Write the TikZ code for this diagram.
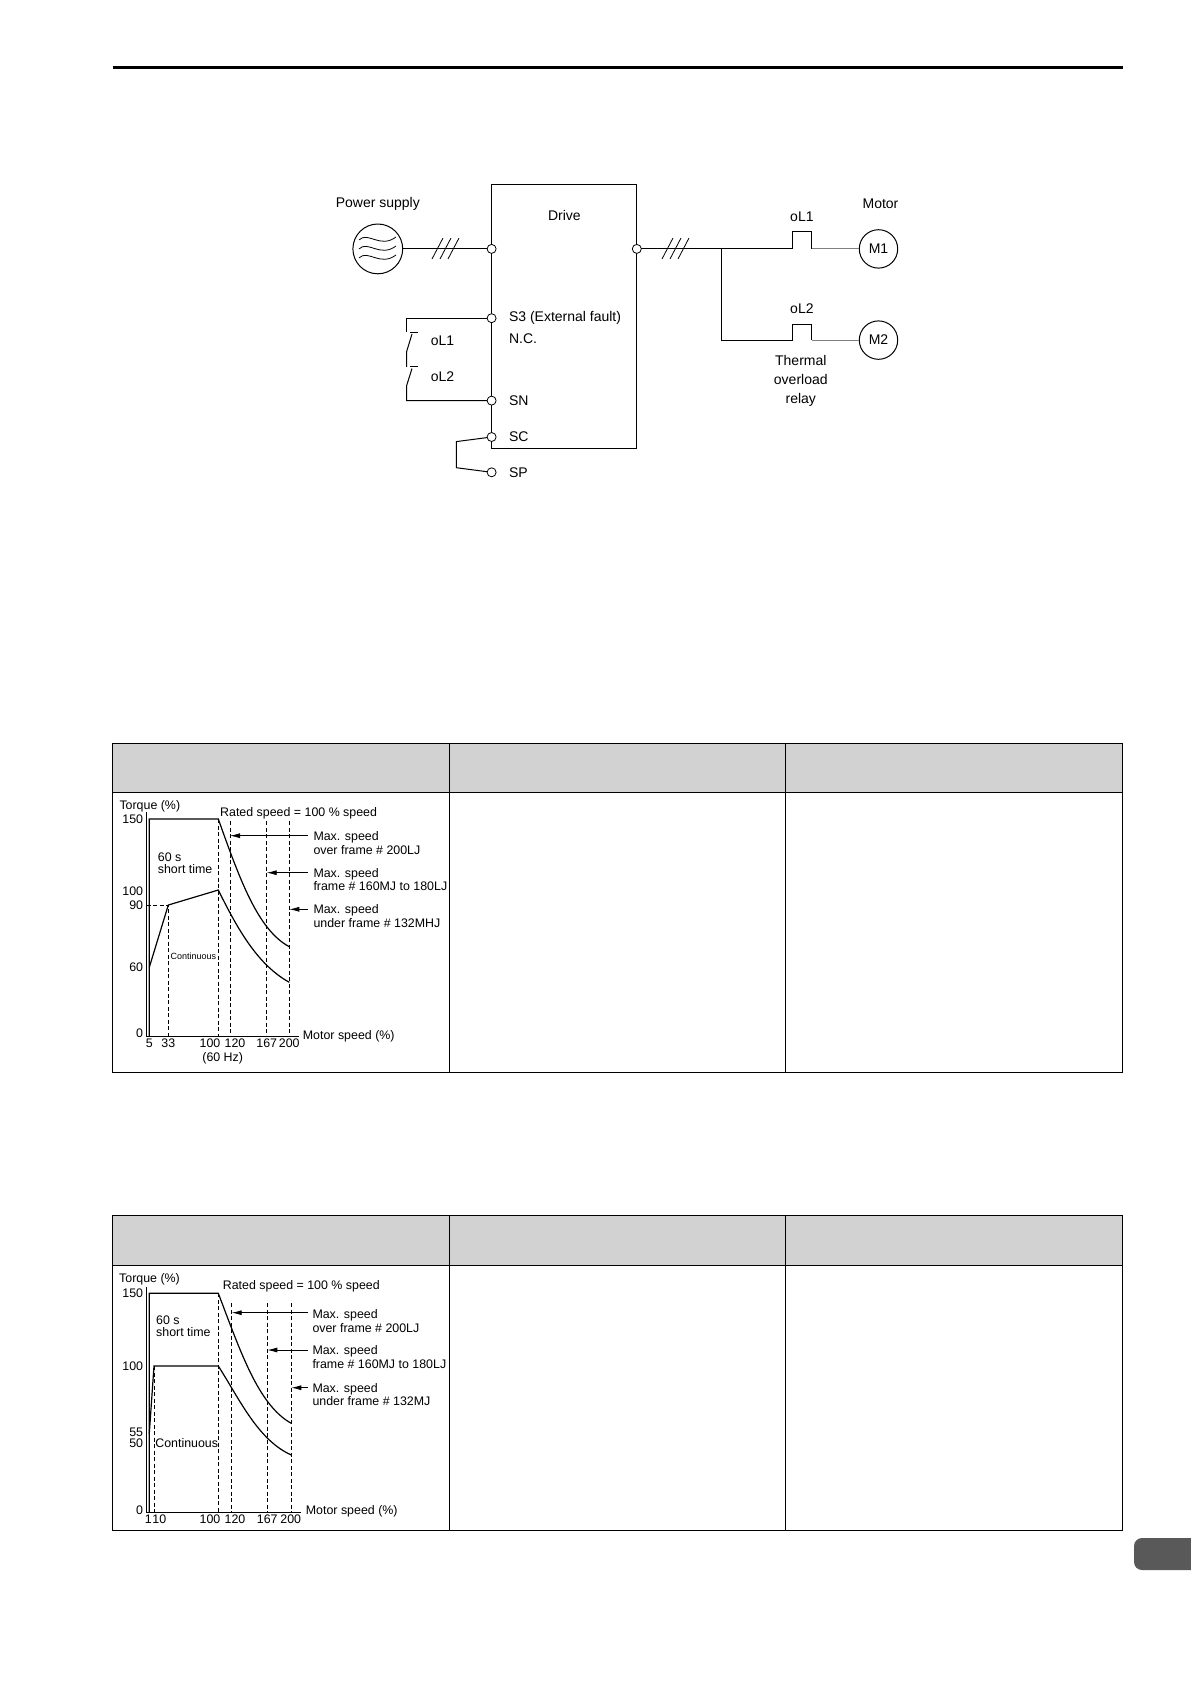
\documentclass[tikz,border=0pt]{standalone}
\usepackage{fontspec}
\setmainfont{Liberation Sans}
\usetikzlibrary{arrows.meta}
\begin{document}
\begin{tikzpicture}[x=1pt,y=-1pt,
  lbl/.style={font=\fontsize{14}{16}\selectfont,inner sep=0pt},
  ch/.style={font=\fontsize{12.4}{13.5}\selectfont,inner sep=0pt},
  term/.style={circle,draw,line width=0.8pt,fill=white,inner sep=0pt,minimum size=9pt},
  wire/.style={line width=1pt},
  gwire/.style={line width=1pt,gray},
  dsh/.style={line width=0.8pt,dash pattern=on 4pt off 2.5pt},
  crv/.style={line width=1.2pt},
  arr/.style={line width=0.8pt,-{Latex[length=10pt,width=5pt]}},
  tb/.style={line width=0.8pt}]
\useasboundingbox (0,0) rectangle (1191,1684);
\fill[white] (0,0) rectangle (1191,1684);
% top rule and tab
\draw[line width=3pt] (112.8,67.7) -- (1122.5,67.7);
\fill[gray!70!black] (1191,1538) -- (1142,1538) to[out=180,in=90] (1134,1546) -- (1134,1562) to[out=-90,in=180] (1142,1570) -- (1191,1570) -- cycle;
% ===== wiring diagram =====
\node[draw,circle,wire,minimum size=49.8pt,inner sep=0pt] (ps) at (377.8,248.9) {};
\foreach \dy in {-9,0,9}{\draw[line width=0.8pt] (359,248.9+\dy) .. controls (368,240+\dy) and (380,258+\dy) .. (396,246+\dy);}
\node[lbl] (pst) at (377.8,204.1) {Power supply};
\draw[wire] (491.6,184.5) rectangle (636.8,448.3);
\node[lbl] (drv) at (564.4,215.6) {Drive};
\coordinate (tin) at (491.6,248.9);
\coordinate (tout) at (636.8,248.9);
\draw[wire] (ps) -- (tin);
\foreach \x in {437,445,453}{\draw[line width=0.8pt] (\x-5,259) -- (\x+6,238);}
\draw[wire] (tout) -- (792.3,248.9) -- (792.3,231.6) -- (811.5,231.6) -- (811.5,248.9);
\foreach \x in {667,675,683}{\draw[line width=0.8pt] (\x-5,259) -- (\x+6,238);}
\node[draw,circle,wire,minimum size=38.4pt,inner sep=0pt] (m1) at (878.5,248.9) {};
\node[lbl] at (m1) {M1};
\draw[gwire] (811.5,248.9) -- (m1);
\draw[wire] (721.5,248.9) -- (721.5,340.1) -- (792.3,340.1) -- (792.3,324) -- (811.5,324) -- (811.5,340.1);
\node[draw,circle,wire,minimum size=38.4pt,inner sep=0pt] (m2) at (878.5,340.1) {};
\node[lbl] at (m2) {M2};
\draw[gwire] (811.5,340.1) -- (m2);
\node[lbl] (ol1r) at (801.9,216.7) {oL1};
\node[lbl] (ol2r) at (801.9,308.7) {oL2};
\node[lbl] (mot) at (880.5,204.1) {Motor};
\node[lbl,align=center] (thr) at (800.8,380.8) {Thermal\\[3pt]overload\\[3pt]relay};
% terminals on left
\coordinate (s3) at (491.6,318.2);
\coordinate (sn) at (491.6,400.6);
\coordinate (sc) at (491.6,437);
\coordinate (sp) at (491.6,472.3);
\draw[wire] (s3) -- (406.5,318.2) -- (406.5,332.4);
\draw[wire] (412,334) -- (406.5,352) -- (406.5,366.9);
\draw[wire] (412,368.5) -- (406.5,386) -- (406.5,400.6) -- (sn);
\draw[wire] (410,332.4) -- (418,332.4);
\draw[wire] (410,366.9) -- (418,366.9);
\draw[wire] (sc) -- (456.3,441.6) -- (456.3,467.7) -- (sp);
\node[lbl] (ol1) at (442.5,340.8) {oL1};
\node[lbl] (ol2) at (442.5,376.5) {oL2};
\node[lbl,anchor=west] at (508.8,318.2) {S3 (External fault)};
\node[lbl,anchor=west] at (508.8,338.2) {N.C.};
\node[lbl,anchor=west] at (508.8,400.6) {SN};
\node[lbl,anchor=west] at (508.8,437) {SC};
\node[lbl,anchor=west] at (508.8,472.3) {SP};
\foreach \t in {tin,tout,s3,sn,sc,sp}{\node[term] at (\t) {};}
% ===== tables =====
\foreach \ya/\yb/\yc in {743.2/792.6/1072.7, 1215.8/1265.2/1530.5}{
  \fill[gray!35] (112.8,\ya) rectangle (1122.5,\yb);
  \draw[tb] (112.8,\ya) rectangle (1122.5,\yc);
  \draw[tb] (112.8,\yb) -- (1122.5,\yb);
  \draw[tb] (449,\ya) -- (449,\yc);
  \draw[tb] (785,\ya) -- (785,\yc);
}
% ===== chart 1 =====
\draw[line width=1pt] (146.7,812) -- (146.7,1036) -- (299.3,1036);
\draw[crv] (149.3,1036) -- (149.3,819) -- (218.3,819) .. controls (240,880) and (258,930) .. (289.3,946.7);
\draw[crv] (149.3,967.3) -- (168.3,905) -- (218.3,890) .. controls (238,930) and (258,965) .. (289.3,982.3);
\draw[dsh] (146.7,905) -- (168.3,905) -- (168.3,1036);
\draw[dsh] (218.3,819) -- (218.3,1036);
\foreach \x in {230,266.7,289.3}{\draw[dsh] (\x,821) -- (\x,1036);}
\draw[arr] (308,835.7) -- (230,835.7);
\draw[arr] (308,872.7) -- (266.7,872.7);
\draw[arr] (308,909.3) -- (289.3,909.3);
\node[ch,anchor=west] at (313.3,837.3) {Max. speed};
\node[ch,anchor=west] at (313.3,850) {over frame \# 200LJ};
\node[ch,anchor=west] at (313.3,874) {Max. speed};
\node[ch,anchor=west] at (313.3,886) {frame \# 160MJ to 180LJ};
\node[ch,anchor=west] at (313.3,910.7) {Max. speed};
\node[ch,anchor=west] at (313.3,923.3) {under frame \# 132MHJ};
\node[ch,anchor=west] at (119.3,806) {Torque (\%)};
\node[ch,anchor=west] at (220,813.3) {Rated speed = 100 \% speed};
\foreach \v/\y in {150/819,100/891.7,90/905,60/967.3,0/1033}{\node[ch,anchor=east] at (143.3,\y) {\v};}
\foreach \v/\x in {5/149.3,33/168.3,100/210,120/235,167/266.7,200/289.3}{\node[ch] at (\x,1043.3) {\v};}
\node[ch] at (222.7,1058.3) {(60 Hz)};
\node[ch,anchor=west] at (302.7,1036) {Motor speed (\%)};
\node[ch,anchor=west] at (157.7,857.3) {60 s};
\node[ch,anchor=west] at (157.7,869.3) {short time};
\node[font=\fontsize{9}{10}\selectfont,inner sep=0pt] at (193.3,956) {Continuous};
% ===== chart 2 =====
\draw[line width=1pt] (146.7,1287) -- (146.7,1512.3) -- (301,1512.3);
\draw[crv] (149.3,1512.3) -- (149.3,1293.3) -- (218.3,1293.3) .. controls (240,1350) and (258,1405) .. (291.3,1423.3);
\draw[crv] (149.3,1433.3) -- (154,1366) -- (218.3,1366) .. controls (240,1400) and (258,1440) .. (291.3,1455);
\draw[dsh] (154,1366) -- (154,1512.3);
\draw[dsh] (218.3,1293.3) -- (218.3,1512.3);
\foreach \x in {231.7,267.3,291.3}{\draw[dsh] (\x,1303.3) -- (\x,1512.3);}
\draw[arr] (308.3,1312.7) -- (231.7,1312.7);
\draw[arr] (308.3,1350) -- (267.3,1350);
\draw[arr] (308.3,1387.7) -- (291.3,1387.7);
\node[ch,anchor=west] at (312.3,1315) {Max. speed};
\node[ch,anchor=west] at (312.3,1327.7) {over frame \# 200LJ};
\node[ch,anchor=west] at (312.3,1351.7) {Max. speed};
\node[ch,anchor=west] at (312.3,1364) {frame \# 160MJ to 180LJ};
\node[ch,anchor=west] at (312.3,1389) {Max. speed};
\node[ch,anchor=west] at (312.3,1401.3) {under frame \# 132MJ};
\node[ch,anchor=west] at (119,1279.3) {Torque (\%)};
\node[ch,anchor=west] at (222.7,1286.7) {Rated speed = 100 \% speed};
\foreach \v/\y in {150/1293.3,100/1366,55/1432,50/1443.5,0/1510}{\node[ch,anchor=east] at (143.3,\y) {\v};}
\foreach \v/\x in {1/148.3,10/159.3,100/210,120/235,167/267.3,200/290.7}{\node[ch] at (\x,1519.3) {\v};}
\node[ch,anchor=west] at (305.7,1511.7) {Motor speed (\%)};
\node[ch,anchor=west] at (156,1320.7) {60 s};
\node[ch,anchor=west] at (156,1332.3) {short time};
\node[ch] at (186.7,1442.7) {Continuous};
\end{tikzpicture}
\end{document}
